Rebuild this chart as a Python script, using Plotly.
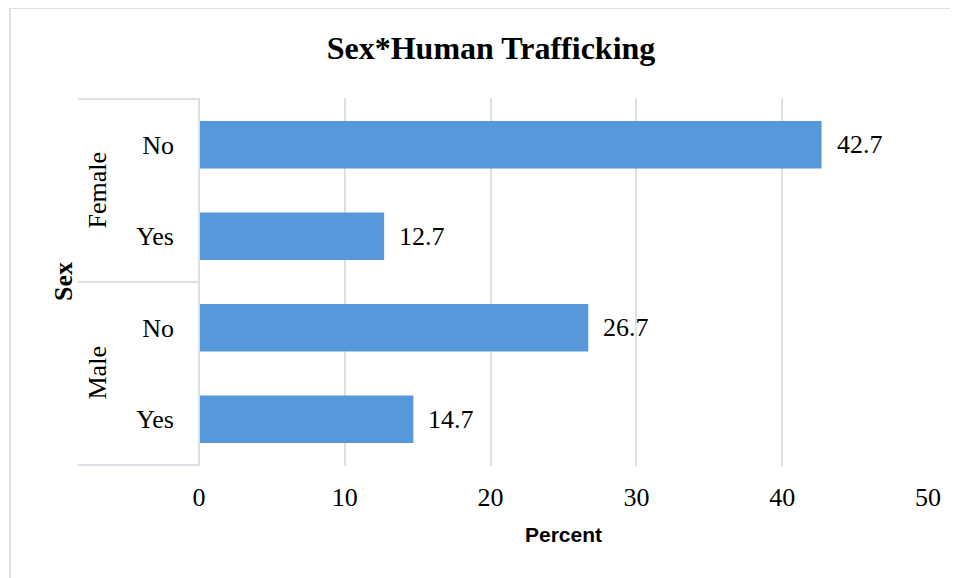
import plotly.graph_objects as go

groups = ["Female", "Female", "Male", "Male"]
answers = ["No", "Yes", "No", "Yes"]
percent = [42.7, 12.7, 26.7, 14.7]
x_ticks = [0, 10, 20, 30, 40, 50]

ids = [f"{g}|{a}" for g, a in zip(groups, answers)]

# the page body adds an 8px margin, so the figure is drawn 8px smaller and offset
OFF = 8
W, H = 958 - OFF, 578 - OFF
L, T = 199 - OFF, 98 - OFF
R = W - (928 - OFF)
B = H - (466 - OFF)
pw, ph = W - L - R, H - T - B

serif = "Liberation Serif, Times New Roman, serif"
grid = "#DCE0E7"

fig = go.Figure()
fig.add_trace(go.Bar(
    y=ids, x=percent, orientation="h",
    marker=dict(color="#5698D9", line=dict(width=0)),
    width=0.52, hoverinfo="x+y",
))

ann = []
for i, v in zip(ids, percent):
    ann.append(dict(x=v, y=i, xref="x", yref="y", text=f"{v:.1f}", showarrow=False,
                    xanchor="left", xshift=13, font=dict(family=serif, size=26, color="#000")))
for gi, g in enumerate(["Female", "Male"]):
    ann.append(dict(x=(97 - OFF - L) / pw, xref="paper", xanchor="center", y=gi * 2 + 0.5, yref="y",
                    yanchor="middle", text=g, textangle=-90, showarrow=False,
                    font=dict(family=serif, size=26, color="#000")))
ann.append(dict(x=(63 - OFF - L) / pw, xref="paper", xanchor="center", y=1.5, yref="y", yanchor="middle",
                text="<b>Sex</b>", textangle=-90, showarrow=False,
                font=dict(family=serif, size=26, color="#000")))

shapes = []
for yv in [-0.5, 1.5, 3.5]:
    shapes.append(dict(type="line", xref="paper", yref="y", x0=(78 - OFF - L) / pw, x1=0, y0=yv, y1=yv,
                       line=dict(color=grid, width=2)))
shapes.append(dict(type="line", xref="paper", yref="paper", x0=0, x1=0, y0=0, y1=1,
                   line=dict(color=grid, width=2)))
bx = (10 - OFF - L) / pw
by = ((H - B) - (8 - OFF)) / ph
shapes.append(dict(type="line", xref="paper", yref="paper", x0=bx, x1=3, y0=by, y1=by,
                   line=dict(color=grid, width=2), layer="below"))
shapes.append(dict(type="line", xref="paper", yref="paper", x0=bx, x1=bx, y0=-3, y1=by,
                   line=dict(color=grid, width=2), layer="below"))

fig.update_layout(
    width=W, height=H,
    margin=dict(l=L, r=R, t=T, b=B),
    paper_bgcolor="white", plot_bgcolor="white",
    showlegend=False,
    title=dict(text="<b>Sex*Human Trafficking</b>", x=(491 - OFF) / W, xanchor="center",
               y=1 - (48 - OFF) / H, yanchor="middle", font=dict(family=serif, size=32, color="#000")),
    xaxis=dict(range=[0, 50], tickvals=x_ticks, showgrid=True, gridcolor=grid, gridwidth=2,
               zeroline=False, showline=False, ticks="", ticklabelstandoff=13,
               tickfont=dict(family=serif, size=26, color="#000"),
               title=dict(text="<b>Percent</b>", standoff=16,
                          font=dict(family="Liberation Sans, Arial, sans-serif", size=21, color="#000"))),
    yaxis=dict(type="category", categoryorder="array", categoryarray=ids, autorange="reversed",
               tickvals=ids, ticktext=answers, showgrid=False, zeroline=False, showline=False,
               ticks="", ticklabelstandoff=24,
               tickfont=dict(family=serif, size=26, color="#000")),
    annotations=ann, shapes=shapes,
)

fig.write_html("out.html")
